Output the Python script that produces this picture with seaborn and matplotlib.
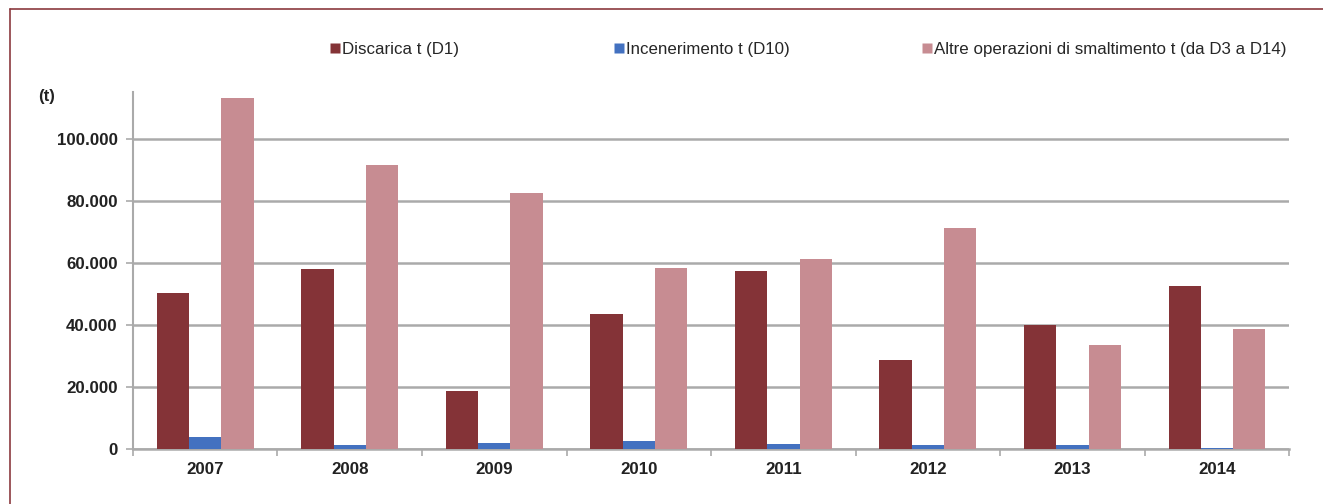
import pandas as pd
import matplotlib.pyplot as plt
import seaborn as sns
from matplotlib.lines import Line2D
from matplotlib.ticker import FuncFormatter

# Dati: tonnellate smaltite per anno e tipo di operazione
anni = ['2007', '2008', '2009', '2010', '2011', '2012', '2013', '2014']
discarica = [50300, 58000, 18700, 43500, 57400, 28700, 40000, 52600]
incenerimento = [3900, 1300, 1900, 2600, 1600, 1300, 1300, 300]
altre = [113200, 91600, 82600, 58400, 61300, 71300, 33500, 38700]

serie = ['Discarica t (D1)', 'Incenerimento t (D10)',
         'Altre operazioni di smaltimento t (da D3 a D14)']
colori = ['#843337', '#4371C0', '#C78C92']

df = pd.DataFrame({'Anno': anni, serie[0]: discarica,
                   serie[1]: incenerimento, serie[2]: altre})
df_long = df.melt(id_vars='Anno', var_name='Tipo', value_name='t')

sns.set_style('white')
plt.rcParams['font.family'] = ['Liberation Sans', 'DejaVu Sans']

fig = plt.figure(figsize=(13.23, 5.04), dpi=100)
ax = fig.add_axes([0.1005, 0.109, 0.874, 0.708])

sns.barplot(data=df_long, x='Anno', y='t', hue='Tipo', hue_order=serie,
            palette=colori, width=0.67, saturation=1, ax=ax, legend=False,
            edgecolor='none', zorder=3)

ax.set_ylim(0, 115000)
ax.set_xlim(-0.5, len(anni) - 0.5)
ax.set_yticks(range(0, 100001, 20000))
ax.yaxis.set_major_formatter(FuncFormatter(lambda v, p: f'{int(v):,}'.replace(',', '.')))
ax.grid(axis='y', color='#AAAAAA', linewidth=1.8, zorder=0)
ax.grid(axis='x', visible=False)
ax.set_xlabel('')
ax.set_ylabel('')

for s in ['top', 'right']:
    ax.spines[s].set_visible(False)
ax.spines['left'].set_color('#AAAAAA')
ax.spines['left'].set_linewidth(1.5)
ax.spines['bottom'].set_color('#AAAAAA')
ax.spines['bottom'].set_linewidth(1.8)

ax.tick_params(axis='y', length=5, width=1.2, color='#AAAAAA', pad=6,
               labelsize=12.2, left=True)
ax.tick_params(axis='x', length=0, pad=9, labelsize=12.2)
for lbl in ax.get_xticklabels() + ax.get_yticklabels():
    lbl.set_fontweight('bold')
    lbl.set_color('#222222')

# tacche tra i gruppi sull'asse x
ax.set_xticks([i + 0.5 for i in range(-1, len(anni))], minor=True)
ax.tick_params(axis='x', which='minor', length=5, width=1.2, color='#AAAAAA',
               bottom=True)

fig.text(0.029, 0.8, '(t)', fontsize=12.2, fontweight='bold', color='#222222')

# legenda: una voce per volta, nelle posizioni del riferimento
pos_x = [328 / 1323, 612 / 1323, 920 / 1323]
for nome, c, x in zip(serie, colori, pos_x):
    h = Line2D([0], [0], marker='s', linestyle='none', markersize=6.5,
               markerfacecolor=c, markeredgecolor='none')
    fig.legend([h], [nome], loc='center left', bbox_to_anchor=(x, 0.901),
               frameon=False, fontsize=12.2, handletextpad=0.05,
               handlelength=0.8, borderpad=0, borderaxespad=0)

# cornice
fig.add_artist(Line2D([10 / 1323, 1.0], [1 - 9 / 504, 1 - 9 / 504],
                      color='#8B3A3E', linewidth=1.2))
fig.add_artist(Line2D([10 / 1323, 10 / 1323], [0.0, 1 - 9 / 504],
                      color='#8B3A3E', linewidth=1.2))

fig.savefig('out.png', dpi=100)
